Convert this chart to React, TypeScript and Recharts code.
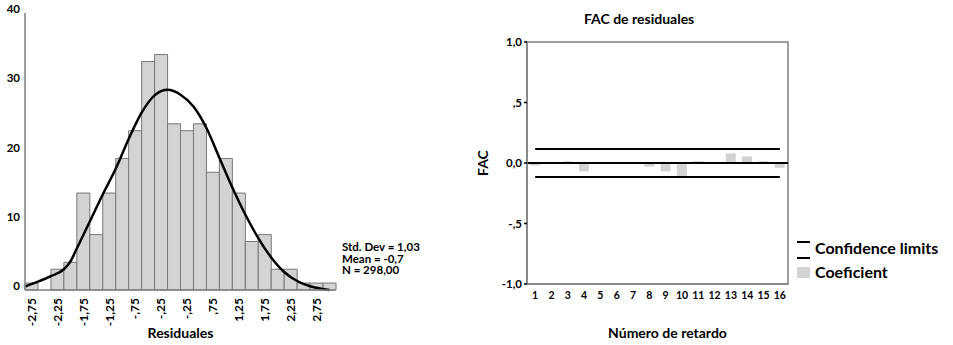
import {
  ComposedChart,
  Bar,
  Line,
  XAxis,
  YAxis,
  ReferenceLine,
  ReferenceArea,
} from 'recharts';

const FONT = 'Lato, "Open Sans", sans-serif';
const FRAME = '#808080';
const BAR_GRAY = '#d3d3d3';

// Residual histogram: 24 bins of width 0,25
const binCenters = [
  -2.75, -2.5, -2.25, -2.0, -1.75, -1.5, -1.25, -1.0, -0.75, -0.5, -0.25, 0.0,
  0.25, 0.5, 0.75, 1.0, 1.25, 1.5, 1.75, 2.0, 2.25, 2.5, 2.75, 3.0,
];
const binTickLabels = [
  '-2,75', '', '-2,25', '', '-1,75', '', '-1,25', '', '-,75', '', '-,25', '',
  '-,25', '', ',75', '', '1,25', '', '1,75', '', '2,25', '', '2,75', '',
];
const binCounts = [
  1, 0, 3, 4, 14, 8, 14, 19, 23, 33, 34, 24,
  23, 24, 17, 19, 14, 7, 8, 3, 3, 1, 1, 1,
];
const countTicks = [0, 10, 20, 30, 40];

// Normal curve over the histogram
const curveX = [
  -2.875, -2.625, -2.375, -2.125, -2.0, -1.875, -1.625, -1.375, -1.125, -0.875,
  -0.625, -0.375, -0.125, 0.125, 0.375, 0.625, 0.875, 1.125, 1.375, 1.625,
  1.875, 2.125, 2.375, 2.625, 2.875, 3.0,
];
const curveY = [
  0.5, 1.2, 2.0, 3.0, 4.1, 6.0, 9.9, 13.8, 17.5, 21.8,
  25.6, 28.1, 28.9, 28.2, 26.5, 23.4, 19.1, 14.8, 10.9, 7.5,
  4.7, 2.6, 1.3, 0.55, 0.15, 0.0,
];

const statLines = ['Std. Dev = 1,03', 'Mean = -0,7', 'N = 298,00'];

// Autocorrelation of residuals
const lags = [1, 2, 3, 4, 5, 6, 7, 8, 9, 10, 11, 12, 13, 14, 15, 16];
const acfValues = [
  -0.02, 0, 0.015, -0.07, 0, 0, 0, -0.03,
  -0.07, -0.11, 0.015, 0, 0.08, 0.055, 0.015, -0.04,
];
const confLimit = 0.116;
const acfTicks = [-1, -0.5, 0, 0.5, 1];
const acfTickLabels = ['-1,0', '-,5', '0,0', ',5', '1,0'];

const histData = binCenters.map((bin, i) => ({ bin, count: binCounts[i] }));
const curveData = curveX.map((x, i) => ({ x, y: curveY[i] }));
const acfData = lags.map((lag, i) => ({
  lag,
  acf: acfValues[i],
  upper: confLimit,
  lower: -confLimit,
}));

const BinTick = ({ x, y, payload }: any) => {
  const text = binTickLabels[binCenters.indexOf(payload.value)];
  if (!text) return null;
  return (
    <text
      x={x}
      y={y}
      transform={`rotate(-90, ${x}, ${y})`}
      textAnchor="end"
      dy="0.36em"
      fill="#000"
      fontSize={12}
      fontWeight={700}
      fontFamily={FONT}
    >
      {text}
    </text>
  );
};

const CountTick = ({ x, y, payload }: any) => (
  <text
    x={x}
    y={y - 4}
    textAnchor="end"
    dy="0.36em"
    fill="#000"
    fontSize={11.5}
    fontWeight={700}
    fontFamily={FONT}
  >
    {payload.value}
  </text>
);

function Histogram() {
  return (
    <ComposedChart
      width={340}
      height={345}
      data={histData}
      margin={{ top: 13, right: 4, bottom: 0, left: 0 }}
      barCategoryGap={0}
      barGap={0}
    >
      <XAxis
        xAxisId="bins"
        dataKey="bin"
        type="category"
        interval={0}
        height={55}
        tickSize={0}
        tickMargin={8}
        tickLine={false}
        axisLine={{ stroke: FRAME, strokeWidth: 1.5 }}
        tick={<BinTick />}
        label={{
          value: 'Residuales',
          position: 'insideBottom',
          offset: 7,
          fill: '#000',
          fontSize: 14,
          fontWeight: 700,
          fontFamily: FONT,
        }}
      />
      <XAxis
        xAxisId="curve"
        dataKey="x"
        type="number"
        orientation="top"
        domain={[-2.875, 3.125]}
        allowDataOverflow
        height={0}
        tick={false}
        tickLine={false}
        axisLine={{ stroke: FRAME, strokeWidth: 1.5 }}
      />
      <YAxis
        yAxisId="count"
        domain={[0, 40]}
        ticks={countTicks}
        width={25}
        tickSize={0}
        tickMargin={5}
        tickLine={false}
        axisLine={{ stroke: FRAME, strokeWidth: 1.5 }}
        tick={<CountTick />}
      />
      <YAxis
        yAxisId="frame"
        orientation="right"
        domain={[0, 40]}
        width={0}
        tick={false}
        tickLine={false}
        axisLine={{ stroke: FRAME, strokeWidth: 1.5 }}
      />
      <Bar
        xAxisId="bins"
        yAxisId="count"
        dataKey="count"
        fill={BAR_GRAY}
        stroke="#777"
        strokeWidth={1}
        isAnimationActive={false}
      />
      <Line
        xAxisId="curve"
        yAxisId="frame"
        data={curveData}
        dataKey="y"
        type="monotone"
        stroke="#000"
        strokeWidth={2.5}
        dot={false}
        isAnimationActive={false}
      />
    </ComposedChart>
  );
}

function AcfChart() {
  return (
    <ComposedChart
      width={513}
      height={345}
      data={acfData}
      margin={{ top: 42, right: 165, bottom: 0, left: 0 }}
    >
      {/* plot frame */}
      <ReferenceArea
        y1={-1}
        y2={1}
        fill="none"
        stroke={FRAME}
        strokeWidth={1.5}
      />
      <XAxis
        dataKey="lag"
        interval={0}
        height={61}
        tickSize={0}
        tickMargin={8}
        tickLine={false}
        axisLine={{ stroke: FRAME, strokeWidth: 1.5 }}
        tick={{ fill: '#000', fontSize: 10.5, fontWeight: 700, fontFamily: FONT }}
        label={{
          value: 'Número de retardo',
          position: 'insideBottom',
          offset: 7,
          dx: 10,
          fill: '#000',
          fontSize: 14,
          fontWeight: 700,
          fontFamily: FONT,
        }}
      />
      <YAxis
        domain={[-1, 1]}
        ticks={acfTicks}
        tickFormatter={(v: number) => acfTickLabels[acfTicks.indexOf(v)]}
        width={87}
        tickSize={3}
        tickMargin={2}
        tickLine={{ stroke: '#000', strokeWidth: 1.5 }}
        axisLine={{ stroke: FRAME, strokeWidth: 1.5 }}
        tick={{ fill: '#000', fontSize: 11.5, fontWeight: 700, fontFamily: FONT }}
        label={{
          value: 'FAC',
          angle: -90,
          position: 'center',
          fill: '#000',
          fontSize: 14,
          fontWeight: 700,
          fontFamily: FONT,
        }}
      />
      <Bar dataKey="acf" fill={BAR_GRAY} barSize={10} isAnimationActive={false} />
      <ReferenceLine y={0} stroke="#000" strokeWidth={2} />
      <Line
        dataKey="upper"
        type="linear"
        stroke="#000"
        strokeWidth={2}
        dot={false}
        isAnimationActive={false}
      />
      <Line
        dataKey="lower"
        type="linear"
        stroke="#000"
        strokeWidth={2}
        dot={false}
        isAnimationActive={false}
      />
    </ComposedChart>
  );
}

function AcfLegend() {
  const text = { fontSize: 16, fontWeight: 700, color: '#000', lineHeight: '24px' };
  return (
    <div style={{ position: 'absolute', left: 797, top: 236, fontFamily: FONT }}>
      <div style={{ display: 'flex', alignItems: 'center', gap: 5 }}>
        <div style={{ width: 13, height: 16, position: 'relative' }}>
          <div style={{ position: 'absolute', top: 1, width: 13, height: 2, background: '#000' }} />
          <div style={{ position: 'absolute', top: 17, width: 13, height: 2, background: '#000' }} />
        </div>
        <span style={text}>Confidence limits</span>
      </div>
      <div style={{ display: 'flex', alignItems: 'center', gap: 5 }}>
        <div style={{ width: 13, height: 11, background: BAR_GRAY }} />
        <span style={text}>Coeficient</span>
      </div>
    </div>
  );
}

export default function App() {
  return (
    <div
      style={{
        position: 'absolute',
        left: 0,
        top: 0,
        width: 953,
        height: 345,
        background: '#fff',
        fontFamily: FONT,
      }}
    >
      <div style={{ position: 'absolute', left: 0, top: 0 }}>
        <Histogram />
      </div>
      <div
        style={{
          position: 'absolute',
          left: 342,
          top: 241,
          fontSize: 11.5,
          fontWeight: 700,
          lineHeight: '11.5px',
          color: '#000',
        }}
      >
        {statLines.map((s) => (
          <div key={s}>{s}</div>
        ))}
      </div>
      <div
        style={{
          position: 'absolute',
          left: 584,
          top: 10,
          fontSize: 14,
          fontWeight: 700,
          color: '#000',
        }}
      >
        FAC de residuales
      </div>
      <div style={{ position: 'absolute', left: 440, top: 0 }}>
        <AcfChart />
      </div>
      <AcfLegend />
    </div>
  );
}
